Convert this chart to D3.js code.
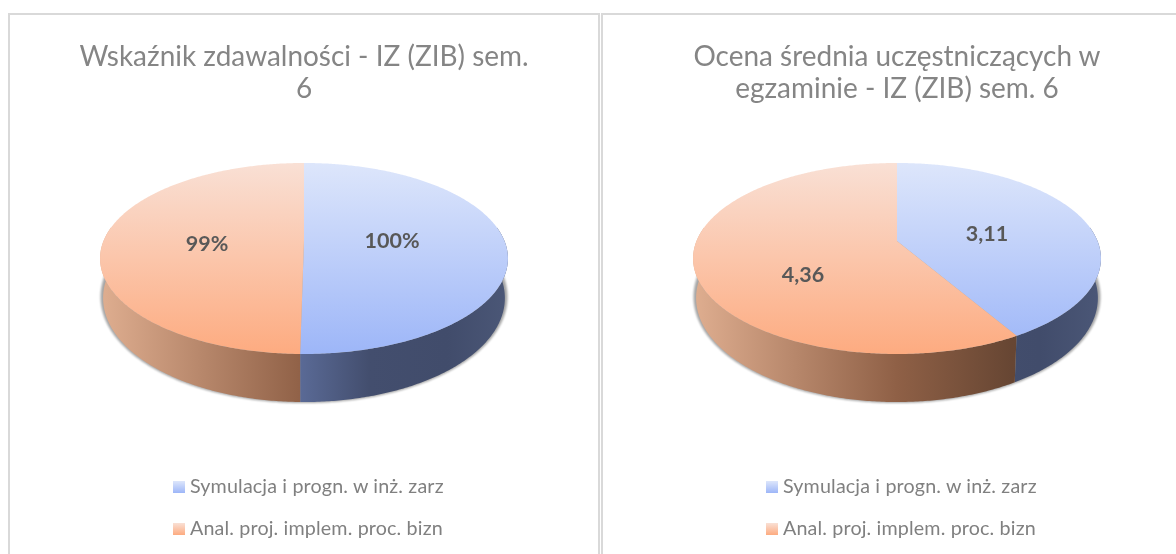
<!DOCTYPE html>
<html>
<head>
<meta charset="utf-8">
<script src="https://cdn.jsdelivr.net/npm/d3@7"></script>
<style>
  html, body { margin: 0; padding: 0; background: #fff; }
  svg { display: block; }
  text { font-family: Lato, "Open Sans", sans-serif; }
</style>
</head>
<body>
<svg id="chart" width="1176" height="554"></svg>
<script>
// chart data
var seriesNames = ['Symulacja i progn. w inż. zarz', 'Anal. proj. implem. proc. bizn'];
var titlesLeft = ['Wskaźnik zdawalności - IZ (ZIB) sem.', '6'];
var titlesRight = ['Ocena średnia uczęstniczących w', 'egzaminie - IZ (ZIB) sem. 6'];
var valuesLeft = [100, 99];
var valuesRight = [3.11, 4.36];
var labelsLeft = ['100%', '99%'];
var labelsRight = ['3,11', '4,36'];

var svg = d3.select('#chart');
var defs = svg.append('defs');

// pie geometry, the tilted disc is a perspective view of a circle
var persp = 0.183, discA = 200.5, discB = 92.3, centerY = 241;
// lower rim sits a bit narrower and is seen at a steeper tilt
var wallH = 38, shrink = 0.015, tilt = 0.089;

function project(cx, angle, depth) {
  var u = Math.sin(angle), v = -Math.cos(angle);
  var w = 1 - persp * v;
  var sx = 1 - shrink * depth, sy = 1 + tilt * depth;
  return [cx + sx * discA * u / w, centerY + sy * discB * v / w + depth * wallH];
}

function rim(cx, a0, a1, depth) {
  var n = Math.max(2, Math.ceil(Math.abs(a1 - a0) / 0.01));
  return d3.range(n + 1).map(function (i) {
    return project(cx, a0 + (a1 - a0) * i / n, depth);
  });
}

var line = d3.line();
var pieLayout = d3.pie().sort(null);

function gradient(id, x1, y1, x2, y2, stops) {
  var g = defs.append('linearGradient').attr('id', id)
    .attr('gradientUnits', 'userSpaceOnUse')
    .attr('x1', x1).attr('y1', y1).attr('x2', x2).attr('y2', y2);
  stops.forEach(function (s) {
    g.append('stop').attr('offset', s[0]).attr('stop-color', s[1]);
  });
}

function blurFilter(id, amount) {
  defs.append('filter').attr('id', id)
    .attr('x', '-10%').attr('y', '-20%').attr('width', '120%').attr('height', '140%')
    .append('feGaussianBlur').attr('stdDeviation', amount);
}
blurFilter('soft', 1.2);
blurFilter('textSoft', 0.35);

gradient('legBlue', 0, 481, 0, 493, [[0, '#dde6fb'], [1, '#9db6f8']]);
gradient('legOrange', 0, 523, 0, 535, [[0, '#f9e0d5'], [1, '#fdab80']]);

function drawPie(cx, values, labels, titles, labelPos, id) {
  var arcs = pieLayout(values);
  var topIds = ['top0' + id, 'top1' + id], wallIds = ['wall0' + id, 'wall1' + id];
  gradient(topIds[0], 0, 163, 0, 354, [[0, '#dde6fb'], [1, '#9db6f8']]);
  gradient(topIds[1], 0, 163, 0, 354, [[0, '#f9e0d5'], [1, '#fdab80']]);
  gradient(wallIds[0], cx - 204, 0, cx + 204, 0, [[0, '#5a6a96'], [0.49, '#5a6a96'], [0.66, '#434e6e'], [0.85, '#414c6b'], [1, '#4b5777']]);
  gradient(wallIds[1], cx - 204, 0, cx + 204, 0, [[0, '#dfae90'], [0.5, '#8f6046'], [0.78, '#674633'], [1, '#5a3d2c']]);

  var g = svg.append('g');

  // soft shadow under the disc, shows at the sides more than below
  g.append('path')
    .attr('d', line(rim(cx, 0, 2 * Math.PI, 0.97)) + 'Z')
    .attr('fill', '#000').attr('stroke', '#000').attr('stroke-width', 5)
    .attr('opacity', 0.35).attr('filter', 'url(#soft)');

  // wall: only the front half of the rim can be seen
  var front0 = Math.PI / 2 - 0.15, front1 = 3 * Math.PI / 2 + 0.15;
  arcs.forEach(function (d, i) {
    var a0 = Math.max(d.startAngle, front0), a1 = Math.min(d.endAngle, front1);
    if (a1 <= a0) return;
    var pts = rim(cx, a0, a1, 0).concat(rim(cx, a1, a0, 1));
    g.append('path').attr('d', line(pts) + 'Z')
      .attr('fill', 'url(#' + wallIds[i] + ')');
  });

  // top face
  arcs.forEach(function (d, i) {
    var pts = [[cx, centerY]].concat(rim(cx, d.startAngle, d.endAngle, 0));
    g.append('path').attr('d', line(pts) + 'Z')
      .attr('fill', 'url(#' + topIds[i] + ')');
  });

  var texts = g.append('g').attr('filter', 'url(#textSoft)');

  // value labels
  labels.forEach(function (t, i) {
    texts.append('text').attr('x', labelPos[i][0]).attr('y', labelPos[i][1])
      .attr('text-anchor', 'middle').attr('font-size', 21.5).attr('font-weight', 700)
      .attr('fill', '#595959').text(t);
  });

  // title
  titles.forEach(function (t, i) {
    texts.append('text').attr('x', cx).attr('y', 66 + i * 32)
      .attr('text-anchor', 'middle').attr('font-size', 27.95).attr('font-weight', 400)
      .attr('fill', '#858585').text(t);
  });

  // legend
  seriesNames.forEach(function (t, i) {
    var ly = 481 + i * 42;
    g.append('rect').attr('x', cx - 131).attr('y', ly).attr('width', 12).attr('height', 12)
      .attr('fill', i === 0 ? 'url(#legBlue)' : 'url(#legOrange)');
    texts.append('text').attr('x', cx - 114).attr('y', ly + 12)
      .attr('font-size', 19.7).attr('letter-spacing', 0.15).attr('fill', '#808080').text(t);
  });
}

// panel frames, open at the bottom
var frames = [[9, 599, 14], [602, 1176, 14]];
frames.forEach(function (f) {
  var framePath = d3.path();
  framePath.moveTo(f[0], 554);
  framePath.lineTo(f[0], f[2]);
  framePath.lineTo(f[1], f[2]);
  if (f[1] < 1176) framePath.lineTo(f[1], 554);
  svg.append('path').attr('d', framePath.toString())
    .attr('fill', 'none').attr('stroke', '#d9d9d9').attr('stroke-width', 2);
});

drawPie(304, valuesLeft, labelsLeft, titlesLeft, [[392, 248], [207, 251]], 'L');
drawPie(897, valuesRight, labelsRight, titlesRight, [[987, 241], [803, 282]], 'R');
</script>
</body>
</html>
